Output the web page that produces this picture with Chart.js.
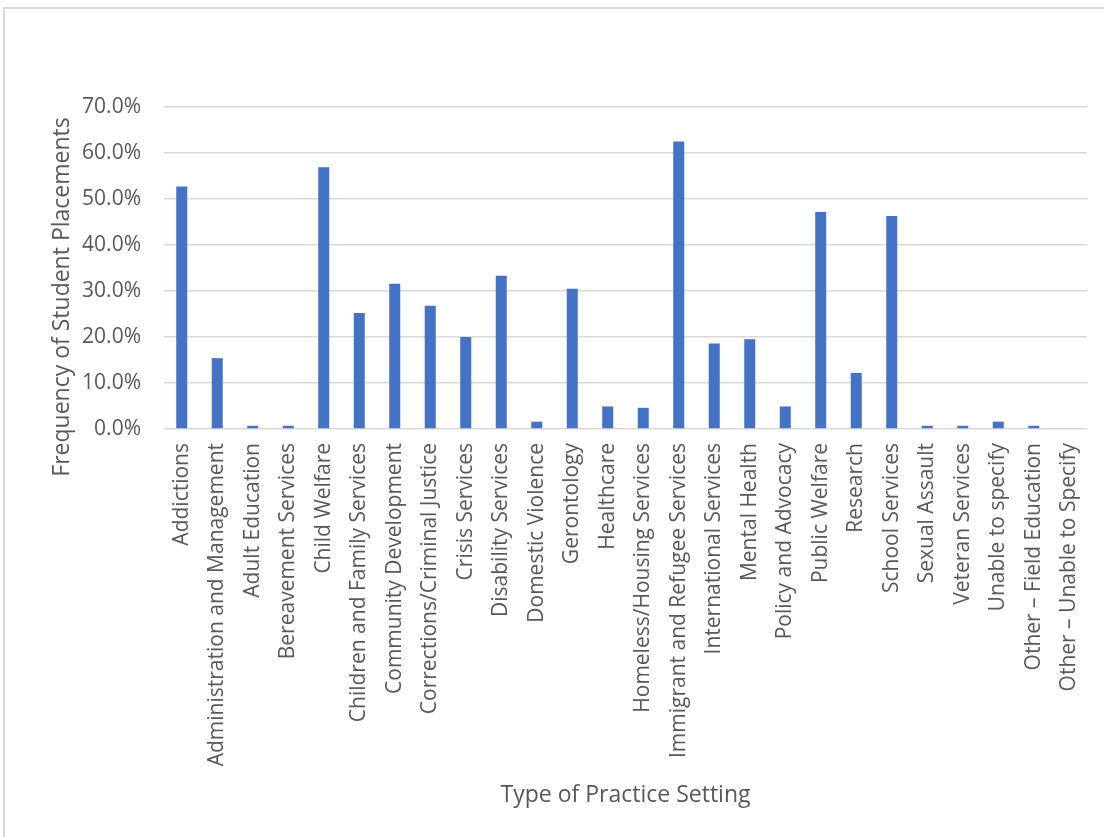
<!DOCTYPE html>
<html>
<head>
<meta charset="utf-8">
<script src="https://cdn.jsdelivr.net/npm/chart.js@4.4.0/dist/chart.umd.min.js"></script>
<style>
  body { margin: 0; background: #fff; }
  #wrap { position: absolute; left: 0; top: 0; width: 1104px; height: 837px; }
  #frame { position: absolute; left: 3px; top: 7px; width: 1110px; height: 840px; border: 2px solid #d9d9d9; box-sizing: border-box; }
  canvas { position: absolute; left: 0; top: 0; }
</style>
</head>
<body>
<div id="wrap">
  <div id="frame"></div>
  <canvas id="myChart" width="1104" height="837"></canvas>
</div>
<script>
const categories = [
  'Addictions', 'Administration and Management', 'Adult Education', 'Bereavement Services',
  'Child Welfare', 'Children and Family Services', 'Community Development',
  'Corrections/Criminal Justice', 'Crisis Services', 'Disability Services',
  'Domestic Violence', 'Gerontology', 'Healthcare', 'Homeless/Housing Services',
  'Immigrant and Refugee Services', 'International Services', 'Mental Health',
  'Policy and Advocacy', 'Public Welfare', 'Research', 'School Services',
  'Sexual Assault', 'Veteran Services', 'Unable to specify',
  'Other \u2013 Field Education', 'Other \u2013 Unable to Specify'
];
// percent of student placements
const placements = [
  52.7, 15.4, 0.7, 0.7,
  56.9, 25.2, 31.6,
  26.8, 20.0, 33.3,
  1.6, 30.5, 4.9, 4.6,
  62.5, 18.6, 19.5,
  4.9, 47.2, 12.2, 46.3,
  0.7, 0.7, 1.6,
  0.7, 0
];
const yTitle = 'Frequency of Student Placements';
const xTitle = 'Type of Practice Setting';

const textColor = '#595959';
const gridColor = '#d9d9d9';
const fontFamily = '"Open Sans", "DejaVu Sans", sans-serif';

// axis titles placed like the original
const titlesPlugin = {
  id: 'titles',
  afterDraw(chart) {
    const ctx = chart.ctx;
    const area = chart.chartArea;
    ctx.save();
    ctx.fillStyle = textColor;
    ctx.font = '23px ' + fontFamily;
    ctx.textAlign = 'center';
    ctx.textBaseline = 'middle';
    ctx.fillText(xTitle, (area.left + area.right) / 2, 795);
    ctx.translate(62, 297);
    ctx.rotate(-Math.PI / 2);
    ctx.fillText(yTitle, 0, 0);
    ctx.restore();
  }
};

const ctx = document.getElementById('myChart').getContext('2d');
const myChart = new Chart(ctx, {
  type: 'bar',
  data: {
    labels: categories,
    datasets: [{
      data: placements,
      backgroundColor: '#4472c4',
      borderWidth: 0,
      barPercentage: 0.62,
      categoryPercentage: 0.5
    }]
  },
  options: {
    responsive: false,
    animation: false,
    layout: { padding: { top: 107, left: 0, right: 17, bottom: 0 } },
    plugins: {
      legend: { display: false },
      tooltip: { enabled: false }
    },
    scales: {
      x: {
        grid: { display: false, drawTicks: false },
        border: { display: false },
        ticks: {
          color: textColor,
          font: { family: fontFamily, size: 21 },
          autoSkip: false,
          minRotation: 90,
          maxRotation: 90,
          padding: 14
        },
        afterFit(scale) {
          scale.height = 837 - 429;
          scale.paddingLeft = 0;
          scale.paddingRight = 0;
        }
      },
      y: {
        min: 0,
        max: 70,
        ticks: {
          stepSize: 10,
          color: textColor,
          font: { family: fontFamily, size: 21 },
          padding: 23,
          callback: v => v.toFixed(1) + '%'
        },
        grid: { color: gridColor, lineWidth: 1.5, drawTicks: false },
        border: { display: false },
        afterFit(scale) { scale.width = 164; }
      }
    }
  },
  plugins: [titlesPlugin]
});
</script>
</body>
</html>
